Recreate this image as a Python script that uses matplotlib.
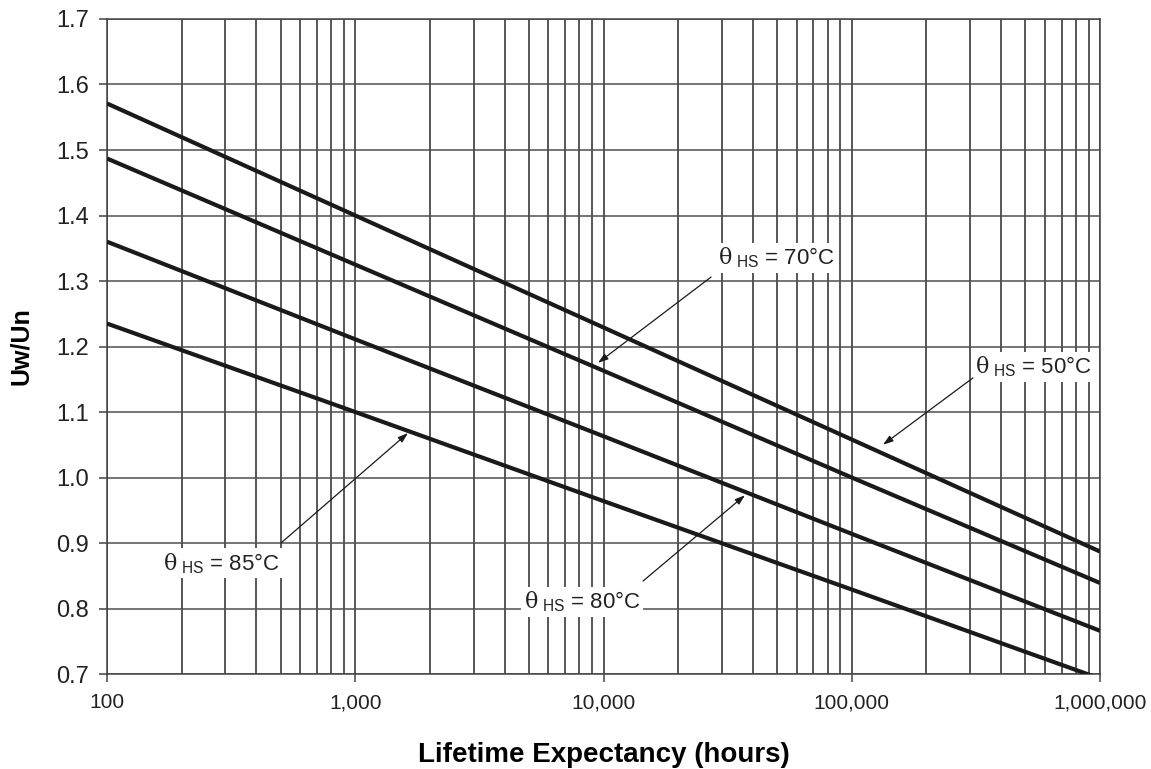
import matplotlib
matplotlib.use("Agg")
import matplotlib.pyplot as plt
import numpy as np
from matplotlib.ticker import FixedLocator, NullFormatter

plt.rcParams['font.family'] = ['Liberation Sans', 'DejaVu Sans']
plt.rcParams['mathtext.fontset'] = 'custom'
plt.rcParams['mathtext.rm'] = 'Liberation Sans'
plt.rcParams['mathtext.it'] = 'DejaVu Serif'

# hours (x) and Uw/Un values at each decade
hours = [100, 1000, 10000, 100000, 1000000]
uw_50 = [1.571, 1.400, 1.229, 1.058, 0.887]
uw_70 = [1.487, 1.325, 1.163, 1.000, 0.839]
uw_80 = [1.360, 1.211, 1.063, 0.914, 0.766]
uw_85 = [1.235, 1.100, 0.964, 0.829, 0.693]

x_ticks = [100, 1000, 10000, 100000, 1000000]
x_tick_labels = ["100", "1,000", "10,000", "100,000", "1,000,000"]
y_ticks = [0.7, 0.8, 0.9, 1.0, 1.1, 1.2, 1.3, 1.4, 1.5, 1.6, 1.7]

fig = plt.figure(figsize=(11.51, 7.69), dpi=100)
ax = fig.add_axes([0.093, 0.1235, 0.8627, 0.8518])

for vals in [uw_50, uw_70, uw_80, uw_85]:
    ax.plot(hours, vals, color="#1a1a1a", lw=3.0, solid_capstyle="butt", zorder=3)

ax.set_xscale("log")
ax.set_xlim(100, 1000000)
ax.set_ylim(0.7, 1.7)

# grid: every decade sub-division and every 0.1
minor = [m * 10 ** e for e in range(2, 6) for m in range(2, 10)]
ax.xaxis.set_major_locator(FixedLocator(x_ticks))
ax.xaxis.set_minor_locator(FixedLocator(minor))
ax.xaxis.set_minor_formatter(NullFormatter())
ax.set_xticklabels(x_tick_labels)
ax.set_yticks(y_ticks)
ax.set_yticklabels(["%.1f" % v for v in y_ticks])
ax.grid(True, which="both", axis="x", color="#2a2a2a", lw=1.1)
ax.grid(True, which="major", axis="y", color="#505050", lw=1.1)
ax.tick_params(axis="x", which="major", length=6, width=1.1, color="#444444",
               labelsize=15, pad=8, labelcolor="#222222")
ax.tick_params(axis="x", which="minor", length=0)
ax.tick_params(axis="y", length=6, width=1.1, color="#444444", labelsize=17, pad=7,
               labelcolor="#222222")
for s in ax.spines.values():
    s.set_color("#444444")
    s.set_linewidth(1.1)

ax.set_xlabel("Lifetime Expectancy (hours)", fontsize=20, fontweight="bold", labelpad=21)
ax.set_ylabel("Uw/Un", fontsize=18, fontweight="bold", labelpad=17)

# labels with arrows
labels = [
    (r"$\theta_{\ \mathrm{HS}}$ = 70°C", (49500, 1.335), (27100, 1.306), (9500, 1.175)),
    (r"$\theta_{\ \mathrm{HS}}$ = 50°C", (537000, 1.169), (307600, 1.152), (133600, 1.050)),
    (r"$\theta_{\ \mathrm{HS}}$ = 85°C", (288, 0.869), (502, 0.900), (1631, 1.068)),
    (r"$\theta_{\ \mathrm{HS}}$ = 80°C", (8190, 0.810), (14430, 0.842), (37150, 0.973)),
]
for txt, tpos, tail, head in labels:
    ax.text(tpos[0], tpos[1], txt, fontsize=16, ha="center", va="center", zorder=4,
            color="#222222", bbox=dict(facecolor="white", edgecolor="none", pad=2))
    ax.annotate("", xy=head, xytext=tail, zorder=5,
                arrowprops=dict(arrowstyle="-|>,head_length=0.6,head_width=0.2",
                                color="#1a1a1a", lw=0.9, shrinkA=0, shrinkB=0))

fig.savefig("out.png", dpi=100)
